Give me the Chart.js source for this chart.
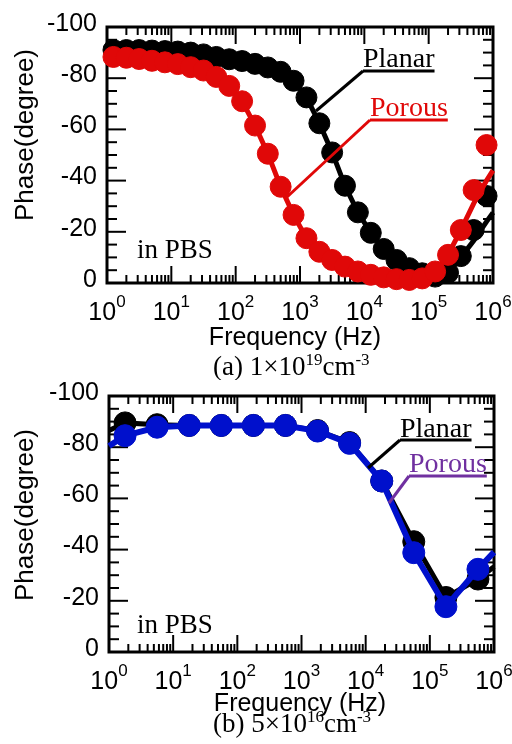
<!DOCTYPE html>
<html>
<head>
<meta charset="utf-8">
<script src="https://cdn.jsdelivr.net/npm/chart.js@4"></script>
<style>
  body { margin: 0; background: #fff; }
  .panel { position: absolute; left: 0; }
</style>
</head>
<body>
<canvas id="chartA" class="panel" width="512" height="380" style="top:0"></canvas>
<canvas id="chartB" class="panel" width="512" height="364" style="top:380px"></canvas>
<script>
// panel (a) 1x10^19 cm^-3 : measured points
const freqA = [1.26, 2, 3.16, 5, 7.94, 12.6, 20, 31.6, 50, 79.4, 126, 200, 316, 500, 794,
  1260, 2000, 3160, 5000, 7940, 12600, 20000, 31600, 50000, 79400, 126000, 200000, 316000, 500000, 794000];
const planarA = [-91, -91, -91, -90.8, -90.6, -90.4, -90, -89.3, -88.3, -87.4, -86.7, -85.6, -84.2, -82.5, -79,
  -72.5, -62.4, -51, -38, -27.6, -19.6, -13.3, -9, -5.8, -3.8, -2.5, -4, -10.5, -20.7, -34];
const porousA = [-88.3, -88, -87.5, -86.8, -86.2, -85.5, -84.3, -83, -80.5, -77, -71, -61.5, -50.5, -37.6, -26.6,
  -17.5, -12.2, -9, -6.4, -4.5, -3.2, -2.2, -1.5, -1.2, -1.8, -4.5, -11, -20.7, -36.3, -53.9];
// panel (a) fitted curves
const fitFreqA = [1, 1.26, 2, 3.16, 5, 7.94, 12.6, 20, 31.6, 50, 79.4, 126, 200, 316, 500, 794,
  1260, 2000, 3160, 5000, 7940, 12600, 20000, 31600, 50000, 79400, 126000, 200000, 316000, 500000, 794000, 1000000];
const planarFitA = [-91, -91, -91, -91, -90.8, -90.6, -90.4, -90, -89.3, -88.3, -87.4, -86.7, -85.6, -84.2, -82.5, -79,
  -72.5, -62.4, -51, -38, -27.6, -19.6, -13.3, -9, -5.8, -3.8, -2.5, -4, -10, -16.5, -24, -27.5];
const porousFitA = [-88.5, -88.3, -88, -87.5, -86.8, -86.2, -85.5, -84.3, -83, -80.5, -77, -71, -61.5, -50.5, -37.6, -26.6,
  -17.5, -12.2, -9, -6.4, -4.5, -3.2, -2.2, -1.5, -1.2, -1.8, -4.5, -11, -20.7, -31, -40, -44];

// panel (b) 5x10^16 cm^-3
const freqB = [1.78, 5.62, 17.8, 56.2, 178, 562, 1780, 5620, 17800, 56200, 178000, 562000];
const planarB = [-89.5, -88.8, -88.5, -88.5, -88.5, -88.5, -86.5, -81.8, -66.8, -43.1, -21.3, -28.5];
const porousB = [-84.5, -87.8, -88.5, -88.5, -88.5, -88.5, -86.3, -81.5, -66.8, -38.8, -17.7, -32.3];
const fitFreqB = [1, 1.78, 5.62, 17.8, 56.2, 178, 562, 1780, 5620, 17800, 56200, 178000, 562000, 1000000];
const planarFitB = [-86.5, -89.5, -88.8, -88.5, -88.5, -88.5, -88.5, -86.5, -81.8, -66.8, -43.1, -21.3, -28.5, -33.3];
const porousFitB = [-80.5, -84.5, -87.8, -88.5, -88.5, -88.5, -88.5, -86.3, -81.5, -66.8, -38.8, -17.7, -32.3, -39];

const yTicks = [-100, -80, -60, -40, -20, 0];
const xExponents = [0, 1, 2, 3, 4, 5, 6];

const SANS = 'Liberation Sans';
const SERIF = 'Liberation Serif';

const pts = (fs, vs) => fs.map((f, i) => ({x: f, y: vs[i]}));

function fitLine(fs, vs, color, width, order) {
  return {data: pts(fs, vs), showLine: true, borderColor: color, borderWidth: width,
    pointRadius: 0, order: order, clip: false};
}
function markers(fs, vs, color, r, order) {
  return {data: pts(fs, vs), showLine: false, backgroundColor: color, borderColor: color, borderWidth: 1,
    pointRadius: r, pointStyle: 'circle', order: order, clip: false};
}

function line(ctx, x1, y1, x2, y2) {
  ctx.beginPath(); ctx.moveTo(x1, y1); ctx.lineTo(x2, y2); ctx.stroke();
}

// frame + inside ticks, drawn under the data
const frameTicks = {
  id: 'frameTicks',
  beforeDatasetsDraw(chart) {
    const {ctx, chartArea: a, scales: {x, y}} = chart;
    ctx.save();
    ctx.strokeStyle = '#000';
    ctx.lineWidth = 2;
    for (let v = -100; v <= 0; v += 5) {
      const py = y.getPixelForValue(v);
      const len = v % 20 === 0 ? 19 : 10;
      line(ctx, a.left, py, a.left + len, py);
      line(ctx, a.right, py, a.right - len, py);
    }
    for (let d = 0; d < 6; d++) {
      for (let m = 1; m <= 9; m++) {
        const px = x.getPixelForValue(m * Math.pow(10, d));
        const len = m === 1 ? 17 : 8;
        line(ctx, px, a.top, px, a.top + len);
        line(ctx, px, a.bottom, px, a.bottom - len);
      }
    }
    ctx.lineWidth = 3;
    ctx.strokeRect(a.left, a.top, a.right - a.left, a.bottom - a.top);
    ctx.restore();
  }
};

function drawPieces(ctx, x, y, pieces, family) {
  let cx = x;
  pieces.forEach(p => {
    ctx.font = p.s + 'px "' + family + '"';
    ctx.fillText(p.t, cx, y - (p.up || 0));
    cx += ctx.measureText(p.t).width;
  });
}

// texts: tick labels, axis titles, caption, labels
const texts = {
  id: 'texts',
  afterDraw(chart, args, o) {
    const {ctx, chartArea: a, scales: {x, y}} = chart;
    ctx.save();
    ctx.fillStyle = '#000';
    // y tick labels
    ctx.font = '25px "' + SANS + '"';
    ctx.textAlign = 'right';
    ctx.textBaseline = 'middle';
    yTicks.forEach(v => {
      ctx.fillText(String(v), a.left - 10, y.getPixelForValue(v) - 3);
    });
    ctx.textBaseline = 'alphabetic';
    ctx.textAlign = 'left';
    // x tick labels 10^n
    xExponents.forEach(n => {
      const px = x.getPixelForValue(Math.pow(10, n));
      ctx.font = '25px "' + SANS + '"';
      const w1 = ctx.measureText('10').width;
      ctx.font = '17px "' + SANS + '"';
      const w2 = ctx.measureText(String(n)).width;
      const start = px - (w1 + w2) / 2;
      drawPieces(ctx, start, a.bottom + 37, [{t: '10', s: 25}, {t: String(n), s: 17, up: 13}], SANS);
    });
    // axis titles
    ctx.font = '25px "' + SANS + '"';
    ctx.textAlign = 'center';
    ctx.fillText('Frequency (Hz)', o.freqX, a.bottom + o.freqDy);
    ctx.save();
    ctx.translate(26, 135);
    ctx.rotate(-Math.PI / 2);
    ctx.textBaseline = 'middle';
    ctx.font = '26px "' + SANS + '"';
    ctx.fillText('Phase(degree)', 0, 0);
    ctx.restore();
    // caption
    ctx.textAlign = 'left';
    drawPieces(ctx, 213, o.captionY, o.caption, SERIF);
    // in PBS
    ctx.font = '27px "' + SERIF + '"';
    ctx.fillText('in PBS', 137, o.pbsY);
    // series labels with underline and leader
    o.labels.forEach(l => {
      ctx.font = '28px "' + SERIF + '"';
      ctx.fillStyle = l.color;
      ctx.strokeStyle = l.color;
      ctx.fillText(l.text, l.x, l.y);
      const w = ctx.measureText(l.text).width;
      ctx.lineWidth = 3;
      line(ctx, l.x, l.uy, l.x + w, l.uy);
      line(ctx, l.x, l.uy, l.lx, l.ly);
    });
    ctx.restore();
  }
};

function options(pad, yWidth, textOpts) {
  return {
    responsive: false,
    animation: false,
    layout: {padding: pad},
    plugins: {legend: {display: false}, tooltip: {enabled: false}, texts: textOpts},
    scales: {
      x: {
        type: 'logarithmic', min: 1, max: 1000000,
        ticks: {display: false},
        grid: {display: false, drawTicks: false},
        border: {display: false},
        afterFit: s => { s.height = 60; }
      },
      y: {
        min: -100, max: 0, reverse: true,
        ticks: {display: false},
        grid: {display: false, drawTicks: false},
        border: {display: false},
        afterFit: s => { s.width = yWidth; }
      }
    }
  };
}

new Chart(document.getElementById('chartA'), {
  type: 'scatter',
  data: {
    datasets: [
      fitLine(fitFreqA, planarFitA, '#000000', 5, 4),
      markers(freqA, planarA, '#000000', 10.5, 3),
      fitLine(fitFreqA, porousFitA, '#E00808', 5, 2),
      markers(freqA, porousA, '#E00808', 10.5, 1)
    ]
  },
  options: options({left: 0, right: 19, top: 27, bottom: 37}, 107, {
    freqX: 295, freqDy: 62, captionY: 375, pbsY: 258,
    caption: [{t: '(a) 1\u00d710', s: 27}, {t: '19', s: 17, up: 10}, {t: 'cm', s: 27}, {t: '-3', s: 17, up: 10}],
    labels: [
      {text: 'Planar', color: '#000000', x: 363, y: 67, uy: 71, lx: 316, ly: 111},
      {text: 'Porous', color: '#E00808', x: 370, y: 116, uy: 120, lx: 287, ly: 197}
    ]
  }),
  plugins: [frameTicks, texts]
});

new Chart(document.getElementById('chartB'), {
  type: 'scatter',
  data: {
    datasets: [
      fitLine(fitFreqB, planarFitB, '#000000', 5, 4),
      markers(freqB, planarB, '#000000', 11, 3),
      fitLine(fitFreqB, porousFitB, '#0010CC', 6, 2),
      markers(freqB, porousB, '#0010CC', 11, 1)
    ]
  },
  options: options({left: 0, right: 18, top: 16, bottom: 32}, 109, {
    freqX: 300, freqDy: 59, captionY: 352, pbsY: 253,
    caption: [{t: '(b) 5\u00d710', s: 27}, {t: '16', s: 17, up: 10}, {t: 'cm', s: 27}, {t: '-3', s: 17, up: 10}],
    labels: [
      {text: 'Planar', color: '#000000', x: 400, y: 57, uy: 60, lx: 368, ly: 88},
      {text: 'Porous', color: '#7030A0', x: 409, y: 92, uy: 96, lx: 389, ly: 123}
    ]
  }),
  plugins: [frameTicks, texts]
});
</script>
</body>
</html>
